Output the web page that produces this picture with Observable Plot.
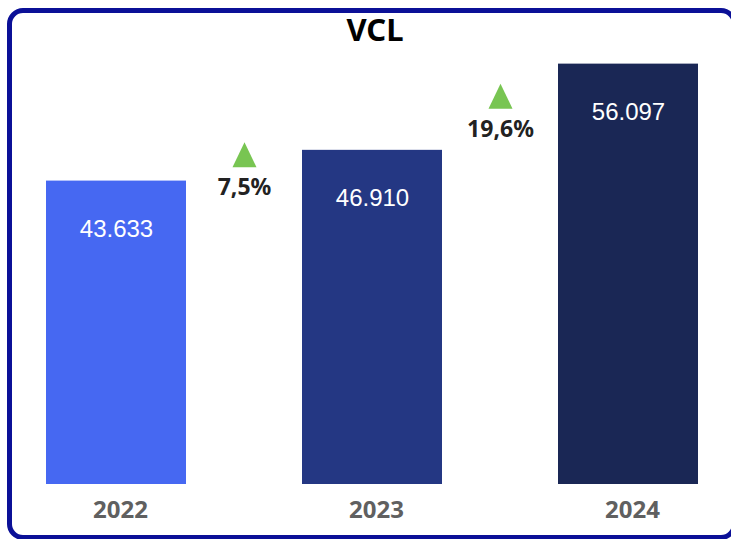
<!DOCTYPE html>
<html><head><meta charset="utf-8">
<script src="https://cdn.jsdelivr.net/npm/d3@7"></script>
<script src="https://cdn.jsdelivr.net/npm/@observablehq/plot@0.6"></script>
<style>
html,body{margin:0;padding:0;background:#fff;overflow:hidden;width:731px;height:539px}
#frame{position:absolute;left:7px;top:8px;width:720px;height:522px;border:5px solid #0b1097;border-radius:16px}
#title{position:absolute;left:0;top:8px;width:750px;text-align:center;font-family:"Noto Sans";font-weight:bold;font-size:31px;line-height:normal;color:#000}
#chart{position:absolute;left:0;top:0}
</style></head><body>
<div id="frame"></div>
<div id="chart"></div>
<div id="title">VCL</div>
<script>
const years = ["2022", "2023", "2024"];
const values = [43633, 46910, 56097];
const growth = [7.5, 19.6];
const barColors = ["#4668f2", "#243783", "#1a2755"];

const locale = d3.formatLocale({decimal: ",", thousands: ".", grouping: [3], currency: ["", ""]});
const fmtInt = locale.format(",d");
const fmtPct = (g) => locale.format(".1f")(g) + "%";

const data = years.map((year, i) => ({year, value: values[i]}));
const gdata = growth.map((g, i) => ({year: years[i + 1], g, mid: (values[i] + values[i + 1]) / 2}));

const yBase = 11300;
const triangle = {
  draw(ctx, size) {
    const a = Math.sqrt(size / Math.PI);
    ctx.moveTo(0, -a);
    ctx.lineTo(a * 0.96, a);
    ctx.lineTo(-a * 0.96, a);
    ctx.closePath();
  }
};

const chart = Plot.plot({
  width: 731,
  height: 539,
  marginLeft: 45,
  marginRight: 32,
  marginTop: 27,
  marginBottom: 55,
  x: {domain: years, paddingInner: 0.455, paddingOuter: 0},
  y: {domain: [yBase, 60000], axis: null},
  color: {domain: years, range: barColors},
  marks: [
    Plot.barY(data, {x: "year", y1: yBase, y2: "value", fill: "year"}),
    Plot.text(data, {x: "year", y: "value", text: d => fmtInt(d.value), fill: "white", fontSize: 24, fontFamily: "Liberation Sans", dy: 48}),
    Plot.dot(gdata, {x: "year", y: "mid", symbol: triangle, r: 12.5, fill: "#78c552", dx: -128, dy: -11}),
    Plot.text(gdata, {x: "year", y: "mid", text: d => fmtPct(d.g), dx: -128, dy: 22, fontSize: 23, fontWeight: "bold", fontFamily: "Noto Sans", fill: "#222"}),
    Plot.axisX({tickSize: 0, tickPadding: 16, fontSize: 24, fontWeight: "bold", fill: "#606060", fontFamily: "Noto Sans", dx: 4, label: null})
  ]
});
document.getElementById("chart").appendChild(chart);
</script>
</body></html>
